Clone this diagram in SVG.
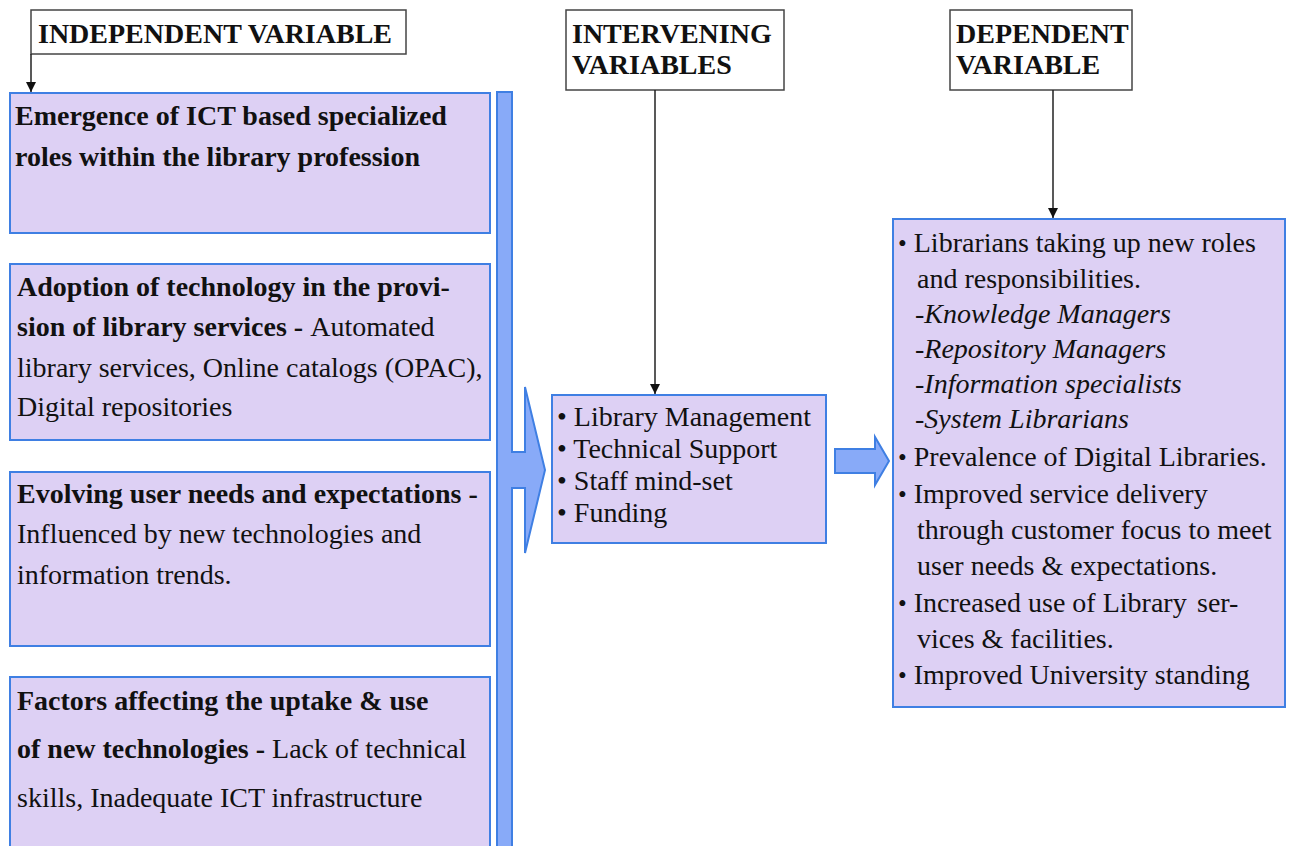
<svg xmlns="http://www.w3.org/2000/svg" width="1294" height="846" viewBox="0 0 1294 846">
<defs>
<style>
.box{fill:#ddd0f4;stroke:#3f7fe3;stroke-width:2}
.hdr{fill:#fff;stroke:#444;stroke-width:1.5}
.blue{fill:#88aaf8;stroke:#3f7fe3;stroke-width:2;stroke-linejoin:miter}
text{font-family:"Liberation Serif","Times New Roman",serif;font-size:28px;fill:#111}
.b{font-weight:bold}
.i{font-style:italic}
.con{stroke:#222;stroke-width:1.5;fill:none}
</style>
<marker id="ah" viewBox="0 0 10 10" refX="10" refY="5" markerWidth="10" markerHeight="10" markerUnits="userSpaceOnUse" orient="auto">
<path d="M0,0 L10,5 L0,10 Z" fill="#111"/>
</marker>
</defs>
<rect width="1294" height="846" fill="#fff"/>

<g id="hdr-independent">
<rect class="hdr" x="31" y="10" width="375" height="44"/>
<text class="b" x="38" y="43">INDEPENDENT VARIABLE</text>
</g>
<g id="hdr-intervening">
<rect class="hdr" x="566" y="10" width="218" height="80"/>
<text class="b" x="572" y="43">INTERVENING</text>
<text class="b" x="572" y="74">VARIABLES</text>
</g>
<g id="hdr-dependent">
<rect class="hdr" x="950" y="10" width="182" height="80"/>
<text class="b" x="956" y="43">DEPENDENT</text>
<text class="b" x="956" y="74">VARIABLE</text>
</g>

<g id="iv1">
<rect class="box" x="10" y="93" width="480" height="140"/>
<text x="15" y="125" class="b">Emergence of ICT based specialized</text>
<text x="15" y="166" class="b">roles within the library profession</text>
</g>
<g id="iv2">
<rect class="box" x="10" y="264" width="480" height="176"/>
<text x="17" y="296" class="b">Adoption of technology in the provi-</text>
<text x="17" y="336"><tspan class="b">sion of library services - </tspan>Automated</text>
<text x="17" y="377">library services, Online catalogs (OPAC),</text>
<text x="17" y="416">Digital repositories</text>
</g>
<g id="iv3">
<rect class="box" x="10" y="472" width="480" height="174"/>
<text x="17" y="503" class="b">Evolving user needs and expectations -</text>
<text x="17" y="543">Influenced by new technologies and</text>
<text x="17" y="584">information trends.</text>
</g>
<g id="iv4">
<rect class="box" x="10" y="677" width="480" height="180"/>
<text x="17" y="710" class="b">Factors affecting the uptake &amp; use</text>
<text x="17" y="758"><tspan class="b">of new technologies - </tspan>Lack of technical</text>
<text x="17" y="807">skills, Inadequate ICT infrastructure</text>
</g>

<g id="intervening">
<rect class="box" x="552" y="395" width="274" height="148"/>
<text x="557" y="426">• Library Management</text>
<text x="557" y="458">• Technical Support</text>
<text x="557" y="490">• Staff mind-set</text>
<text x="557" y="522">• Funding</text>
</g>

<g id="dependent">
<rect class="box" x="893" y="219" width="392" height="488"/>
<text x="898" y="252"><tspan font-size="25">•</tspan> Librarians taking up new roles</text>
<text x="917" y="288">and responsibilities.</text>
<text x="915" y="323" class="i">-Knowledge Managers</text>
<text x="915" y="358" class="i">-Repository Managers</text>
<text x="915" y="393" class="i">-Information specialists</text>
<text x="915" y="428" class="i">-System Librarians</text>
<text x="898" y="466"><tspan font-size="25">•</tspan> Prevalence of Digital Libraries.</text>
<text x="898" y="503"><tspan font-size="25">•</tspan> Improved service delivery</text>
<text x="917" y="539">through customer focus to meet</text>
<text x="917" y="575">user needs &amp; expectations.</text>
<text x="898" y="612"><tspan font-size="25">•</tspan> Increased use of Library<tspan x="1197">ser-</tspan></text>
<text x="917" y="648">vices &amp; facilities.</text>
<text x="898" y="684"><tspan font-size="25">•</tspan> Improved University standing</text>
</g>

<g id="connectors">
<path class="blue" d="M497,92 H512 V452 H525 V387 L545,470 L525,553 V488 H512 V850 H497 Z"/>
<path class="blue" d="M835,449 H875 V437 L889,461 L875,485 V473 H835 Z"/>
<line class="con" x1="31" y1="54" x2="31" y2="92" marker-end="url(#ah)"/>
<line class="con" x1="655" y1="90" x2="655" y2="394" marker-end="url(#ah)"/>
<line class="con" x1="1053" y1="90" x2="1053" y2="218" marker-end="url(#ah)"/>
</g>
</svg>
